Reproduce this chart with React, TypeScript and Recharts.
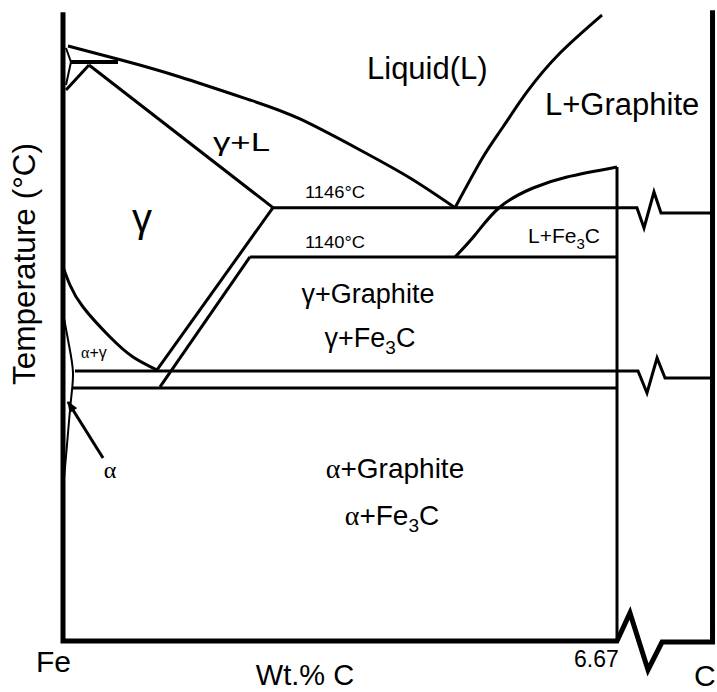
import { ComposedChart, Line, XAxis, YAxis } from "recharts";

// x = wt.% C (the pure C side sits past a break), y = relative temperature
// (0 = bottom of the diagram, 100 = top). The diagram is schematic.

const frame = [
  { x: 0, y: 98.1 },
  { x: 0, y: 0 },
  { x: 6.67, y: 0 },
  { x: 6.826, y: 4.37 },
  { x: 7.043, y: -4.52 },
  { x: 7.212, y: -0.16 },
  { x: 7.82, y: -0.16 },
  { x: 7.82, y: 98.4 },
];

const cementiteLine = [
  { x: 6.67, y: 0 },
  { x: 6.67, y: 73.95 },
];

const liquidusGamma = [
  { x: 0.06, y: 92.82 },
  { x: 0.746, y: 90.48 },
  { x: 1.409, y: 87.99 },
  { x: 2.251, y: 84.4 },
  { x: 2.853, y: 81.44 },
  { x: 3.576, y: 76.6 },
  { x: 4.178, y: 72.23 },
  { x: 4.72, y: 67.6 },
];

const liquidusGraphite = [
  { x: 4.72, y: 67.6 },
  { x: 5.057, y: 75.51 },
  { x: 5.297, y: 80.19 },
  { x: 5.586, y: 85.65 },
  { x: 5.984, y: 91.73 },
  { x: 6.489, y: 97.66 },
];

const liquidusCementite = [
  { x: 4.72, y: 59.91 },
  { x: 4.96, y: 63.34 },
  { x: 5.261, y: 67.71 },
  { x: 5.659, y: 70.67 },
  { x: 6.068, y: 72.39 },
  { x: 6.67, y: 73.95 },
];

const peritectic = [
  { x: 0.084, y: 90.33 },
  { x: 0.662, y: 90.33 },
];

const deltaBoundary = [
  { x: 0.036, y: 92.51 },
  { x: 0.096, y: 90.33 },
  { x: 0.036, y: 86.74 },
];

const gammaA4 = [
  { x: 0.036, y: 85.96 },
  { x: 0.313, y: 89.86 },
];

const gammaSolidus = [
  { x: 0.313, y: 89.86 },
  { x: 2.528, y: 67.6 },
];

const eutecticStable = [
  { x: 2.528, y: 67.6 },
  { x: 6.91, y: 67.6 },
  { x: 6.995, y: 64.43 },
  { x: 7.115, y: 70.05 },
  { x: 7.2, y: 66.77 },
  { x: 7.82, y: 66.77 },
];

const eutecticMeta = [
  { x: 2.251, y: 59.91 },
  { x: 6.67, y: 59.91 },
];

const acmStable = [
  { x: 2.528, y: 67.6 },
  { x: 1.132, y: 42.28 },
];

const acmMeta = [
  { x: 2.251, y: 59.91 },
  { x: 1.168, y: 39.63 },
];

const a3Line = [
  { x: 0, y: 58.35 },
  { x: 0.084, y: 55.54 },
  { x: 0.241, y: 52.11 },
  { x: 0.566, y: 47.43 },
  { x: 0.843, y: 44.31 },
  { x: 1.132, y: 42.28 },
];

const eutectoidStable = [
  { x: 0.144, y: 42.12 },
  { x: 6.923, y: 42.12 },
  { x: 7.031, y: 38.69 },
  { x: 7.152, y: 44.15 },
  { x: 7.248, y: 41.03 },
  { x: 7.82, y: 41.03 },
];

const eutectoidMeta = [
  { x: 0.12, y: 39.47 },
  { x: 6.67, y: 39.47 },
];

const alphaSolvus = [
  { x: 0.012, y: 50.39 },
  { x: 0.072, y: 46.18 },
  { x: 0.12, y: 41.97 },
  { x: 0.096, y: 37.6 },
  { x: 0.048, y: 30.58 },
  { x: 0, y: 23.56 },
];

const alphaPointer = [
  { x: 0.482, y: 28.55 },
  { x: 0.06, y: 37.29 },
];

const series = [
  { id: "frame", data: frame, width: 5, type: "linear" },
  { id: "fe3c", data: cementiteLine, width: 3, type: "linear" },
  { id: "liqG", data: liquidusGamma, width: 3, type: "natural" },
  { id: "liqGr", data: liquidusGraphite, width: 3, type: "natural" },
  { id: "liqC", data: liquidusCementite, width: 3, type: "natural" },
  { id: "perit", data: peritectic, width: 4, type: "linear" },
  { id: "delta", data: deltaBoundary, width: 2, type: "linear" },
  { id: "a4", data: gammaA4, width: 3, type: "linear" },
  { id: "sol", data: gammaSolidus, width: 3, type: "linear" },
  { id: "eutS", data: eutecticStable, width: 3, type: "linear" },
  { id: "eutM", data: eutecticMeta, width: 3, type: "linear" },
  { id: "acmS", data: acmStable, width: 3, type: "linear" },
  { id: "acmM", data: acmMeta, width: 3, type: "linear" },
  { id: "a3", data: a3Line, width: 3, type: "natural" },
  { id: "eudS", data: eutectoidStable, width: 3, type: "linear" },
  { id: "eudM", data: eutectoidMeta, width: 3, type: "linear" },
  { id: "alpha", data: alphaSolvus, width: 2, type: "natural" },
];

const sans = "'Liberation Sans', Arial, sans-serif";
const serif = "'Liberation Serif', 'Times New Roman', serif";

export default function App() {
  return (
    <div style={{ position: "absolute", left: 0, top: 0, background: "#fff" }}>
      <ComposedChart
        width={717}
        height={692}
        margin={{ top: 0, right: 0, bottom: 0, left: 0 }}
      >
        <defs>
          <marker
            id="arrowHead"
            viewBox="0 0 10 8"
            refX="9"
            refY="4"
            markerWidth="12"
            markerHeight="9"
            markerUnits="userSpaceOnUse"
            orient="auto"
          >
            <path d="M0,0 L10,4 L0,8 z" fill="#000" />
          </marker>
        </defs>
        <XAxis
          type="number"
          dataKey="x"
          domain={[-0.7585, 7.8738]}
          allowDataOverflow
          hide
        />
        <YAxis type="number" domain={[-7.956, 100]} allowDataOverflow hide />
        {series.map((s) => (
          <Line
            key={s.id}
            data={s.data}
            dataKey="y"
            type={s.type as "linear" | "natural"}
            stroke="#000"
            strokeWidth={s.width}
            dot={false}
            activeDot={false}
            isAnimationActive={false}
          />
        ))}
        <Line
          data={alphaPointer}
          dataKey="y"
          type="linear"
          stroke="#000"
          strokeWidth={3}
          dot={false}
          activeDot={false}
          markerEnd="url(#arrowHead)"
          isAnimationActive={false}
        />

        <g fontFamily={sans} fill="#000">
          <text x={367} y={79} fontSize={31}>Liquid(L)</text>
          <text x={545} y={115} fontSize={31}>L+Graphite</text>
          <text x={213} y={151} fontSize={26} textLength={57} lengthAdjust="spacingAndGlyphs">γ+L</text>
          <text x={142} y={232} fontSize={40} textAnchor="middle">γ</text>
          <text x={305} y={198} fontSize={17} textLength={60} lengthAdjust="spacingAndGlyphs">1146°C</text>
          <text x={305} y={248} fontSize={17} textLength={60} lengthAdjust="spacingAndGlyphs">1140°C</text>
          <text x={528} y={243} fontSize={21}>
            L+Fe<tspan dy={6} fontSize={15}>3</tspan>
            <tspan dy={-6}>C</tspan>
          </text>
          <text x={368} y={303} fontSize={27} textAnchor="middle">γ+Graphite</text>
          <text x={370} y={347} fontSize={27} textAnchor="middle">
            γ+Fe<tspan dy={7} fontSize={19}>3</tspan>
            <tspan dy={-7}>C</tspan>
          </text>
          <text x={81} y={358} fontSize={16}>
            <tspan fontFamily={serif}>α</tspan>+γ
          </text>
          <text x={110} y={478} fontSize={24} fontFamily={serif} textAnchor="middle">α</text>
          <text x={395} y={478} fontSize={28} textAnchor="middle">
            <tspan fontFamily={serif}>α</tspan>+Graphite
          </text>
          <text x={392} y={525} fontSize={28} textAnchor="middle">
            <tspan fontFamily={serif}>α</tspan>+Fe<tspan dy={7} fontSize={19}>3</tspan>
            <tspan dy={-7}>C</tspan>
          </text>
          <text x={36} y={672} fontSize={30}>Fe</text>
          <text x={305} y={685} fontSize={29} textAnchor="middle">Wt.% C</text>
          <text x={574} y={667} fontSize={23}>6.67</text>
          <text x={694} y={686} fontSize={30}>C</text>
          <text
            x={35}
            y={264}
            fontSize={31}
            textAnchor="middle"
            textLength={242}
            lengthAdjust="spacingAndGlyphs"
            transform="rotate(-90 35 264)"
          >
            Temperature (°C)
          </text>
        </g>
      </ComposedChart>
    </div>
  );
}
